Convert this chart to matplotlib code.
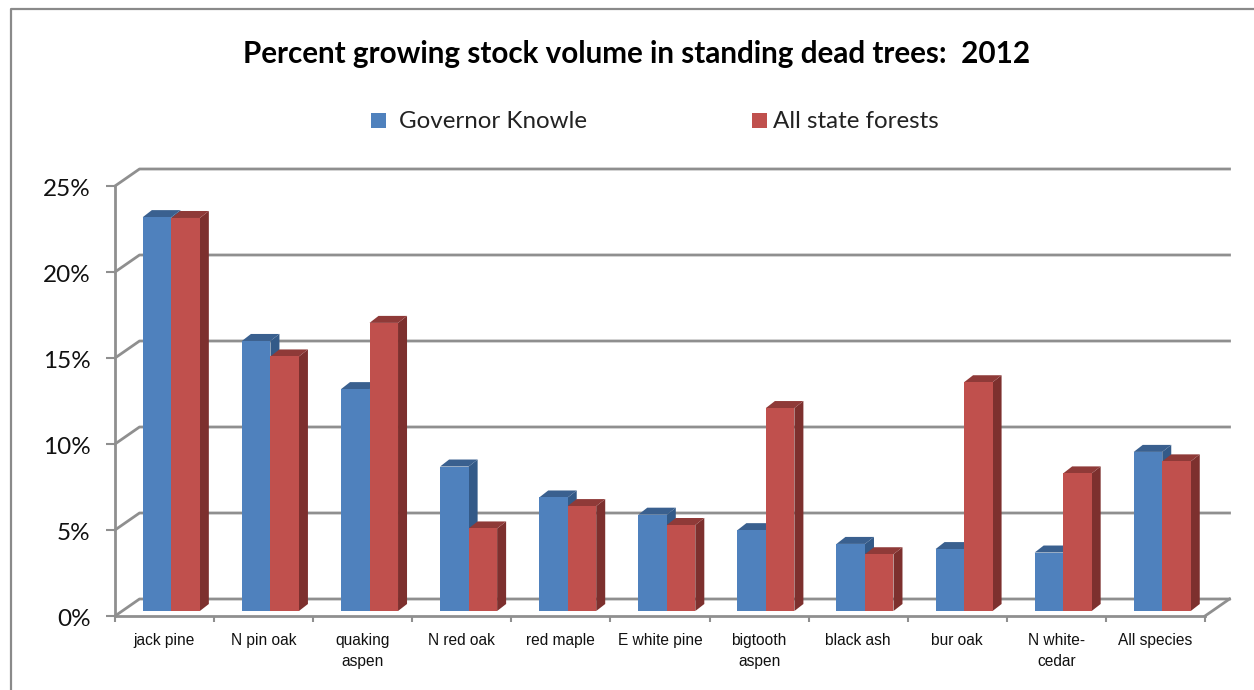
import matplotlib
matplotlib.use("Agg")
import matplotlib.pyplot as plt
from matplotlib.patches import Polygon, Rectangle
from matplotlib.lines import Line2D
from matplotlib.transforms import Affine2D

categories = ["jack pine", "N pin oak", "quaking\naspen", "N red oak", "red maple",
              "E white pine", "bigtooth\naspen", "black ash", "bur oak",
              "N white-\ncedar", "All species"]
governor_knowle = [22.9, 15.7, 12.9, 8.4, 6.6, 5.6, 4.7, 3.9, 3.6, 3.4, 9.25]
all_state_forests = [22.85, 14.8, 16.75, 4.8, 6.1, 5.0, 11.8, 3.3, 13.3, 8.0, 8.7]
y_ticks = [0, 5, 10, 15, 20, 25]
title = "Percent growing stock volume in standing dead trees:  2012"
series_names = ["Governor Knowle", "All state forests"]

W, H = 1254, 690
GREY = "#8f8f8f"
BODY = "Lato"

fig = plt.figure(figsize=(W / 100, H / 100), dpi=100, facecolor="white")
ax = fig.add_axes([115 / W, (H - 616) / H, 1090 / W, 430 / H])
ax.set_xlim(-0.5, 10.5)
ax.set_ylim(0, 25)
ax.patch.set_visible(False)

# Pixel-to-data scale used for the oblique depth of the chart box
px_x = 11 / 1090
px_y = 25 / 430
box_dx, box_dy = 24.5 * px_x, 17 * px_y
plane_dx, plane_dy = 6.8 * px_x, 5 * px_y
depth_dx, depth_dy = 9 * px_x, 7 * px_y
bar_w = 28.5 * px_x

# Back wall gridlines and the floor outline
for t in y_ticks:
    ax.add_line(Line2D([-0.5, -0.5 + box_dx, 10.5 + box_dx], [t, t + box_dy, t + box_dy],
                       color=GREY, lw=2.0, clip_on=False, zorder=1))
ax.add_line(Line2D([10.5, 10.5 + box_dx], [0, box_dy], color=GREY, lw=2.0, clip_on=False, zorder=1))


def draw_series(values, offset, front, top, side, z):
    for i, v in enumerate(values):
        x0 = i + offset * bar_w + plane_dx - bar_w
        x1 = x0 + bar_w
        b = plane_dy
        t = v + plane_dy
        ax.add_patch(Polygon([(x1, b), (x1 + depth_dx, b + depth_dy), (x1 + depth_dx, t + depth_dy), (x1, t)],
                             fc=side, ec="none", clip_on=False, zorder=z))
        ax.add_patch(Polygon([(x0, t), (x0 + depth_dx, t + depth_dy), (x1 + depth_dx, t + depth_dy), (x1, t)],
                             fc=top, ec="none", clip_on=False, zorder=z))
        ax.add_patch(Rectangle((x0, b), bar_w, v, fc=front, ec="none", clip_on=False, zorder=z + 0.1))


draw_series(governor_knowle, 0, "#4f81bd", "#3a608f", "#335a88", 3)
draw_series(all_state_forests, 1, "#c0504d", "#8f3a38", "#7d302e", 4)

# Axes frame and ticks
for s in ("top", "right"):
    ax.spines[s].set_visible(False)
for s in ("left", "bottom"):
    ax.spines[s].set_color(GREY)
    ax.spines[s].set_linewidth(2.0)
ax.set_yticks(y_ticks, [f"{t}%" for t in y_ticks], fontsize=17.5, family=BODY, color="#111111")
ax.tick_params(axis="y", length=6.5, width=1.5, color=GREY, pad=11)
for lab in ax.get_yticklabels():
    lab.set_transform(lab.get_transform() + Affine2D().translate(0, -2))
ax.set_xticks(range(len(categories)), categories, fontsize=11.2, family="Liberation Sans", color="#111111",
              linespacing=1.5)
ax.tick_params(axis="x", which="major", length=0, pad=12)
ax.set_xticks([i - 0.5 for i in range(len(categories) + 1)], minor=True)
ax.tick_params(axis="x", which="minor", length=4, width=1.5, color=GREY)

fig.text(637 / W, 1 - 54 / H, title, ha="center", va="center", fontsize=21.3, fontweight="bold",
         family="Lato", color="black")

# Legend
leg_items = [(371, 399, series_names[0], "#4f81bd"), (752, 773, series_names[1], "#c0504d")]
for sx, tx, name, colour in leg_items:
    fig.add_artist(Rectangle((sx / W, 1 - 128 / H), 15 / W, 15 / H, transform=fig.transFigure,
                             fc=colour, ec="none"))
    fig.text(tx / W, 1 - 122 / H, name, ha="left", va="center", fontsize=17.4, family=BODY, color="#222222")

# Outer chart border, running off the top right and bottom left
fig.add_artist(Line2D([11 / W, 11 / W, 1], [0, 1 - 8.5 / H, 1 - 8.5 / H], transform=fig.transFigure,
                      color="#8a8a8a", lw=1.6))

fig.savefig("out.png", dpi=100, facecolor="white")
